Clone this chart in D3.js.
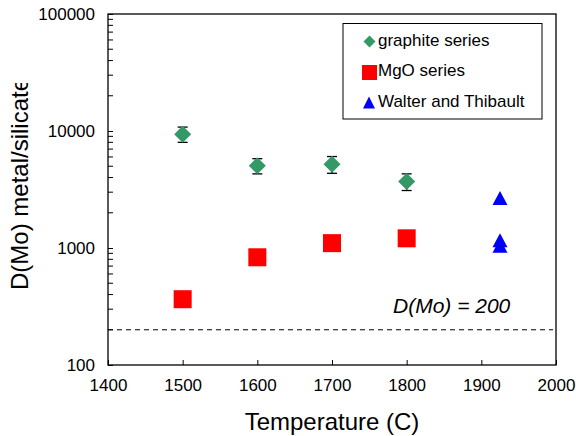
<!DOCTYPE html>
<html><head><meta charset="utf-8">
<script src="https://cdn.jsdelivr.net/npm/d3@7"></script>
<style>body{margin:0;background:#fff;} svg{display:block;font-family:"Liberation Sans",Arial,sans-serif;}</style>
</head><body>
<script>
// Data
const graphiteT = [1500, 1600, 1700, 1800];
const graphiteD = [9400, 5050, 5200, 3700];
const graphiteErr = [1400, 750, 850, 600];
const mgoT = [1500, 1600, 1700, 1800];
const mgoD = [365, 833, 1100, 1210];
const walterT = [1925, 1925, 1925];
const walterD = [2550, 1110, 1000];
const xTicks = [1400, 1500, 1600, 1700, 1800, 1900, 2000];
const yTicks = [100, 1000, 10000, 100000];
const refLine = 200;
const legendLabels = ["graphite series", "MgO series", "Walter and Thibault"];

const W = 576, H = 436;
const m = {l: 108, r: 556, t: 14, b: 365};
const svg = d3.select("body").append("svg").attr("width", W).attr("height", H);

const x = d3.scaleLinear().domain([1400, 2000]).range([m.l, m.r]);
const y = d3.scaleLog().domain([100, 100000]).range([m.b, m.t]);

// minor ticks for y
const minor = [];
for (let d = 100; d < 100000; d *= 10) for (let k = 2; k <= 9; k++) minor.push(d * k);

// y axis
const yAxis = svg.append("g").attr("transform", `translate(${m.l},0)`)
  .call(d3.axisLeft(y).tickValues(yTicks).tickFormat(d3.format("d")).tickSizeInner(-5).tickSizeOuter(0).tickPadding(13));
yAxis.select(".domain").remove();
yAxis.selectAll("text").style("font-size", "17px").attr("fill", "#000");
yAxis.selectAll("line").attr("stroke", "#000");
svg.append("g").selectAll("line").data(minor).join("line")
  .attr("x1", m.l).attr("x2", m.l + 5).attr("y1", d => y(d)).attr("y2", d => y(d))
  .attr("stroke", "#000").attr("stroke-width", 1);

// x axis
const xAxis = svg.append("g").attr("transform", `translate(0,${m.b})`)
  .call(d3.axisBottom(x).tickValues(xTicks).tickFormat(d3.format("d")).tickSizeInner(-5).tickSizeOuter(0).tickPadding(14));
xAxis.select(".domain").remove();
xAxis.selectAll("text").style("font-size", "17px").attr("fill", "#000");
xAxis.selectAll("line").attr("stroke", "#000");

// frame
svg.append("rect").attr("x", m.l).attr("y", m.t).attr("width", m.r - m.l).attr("height", m.b - m.t)
  .attr("fill", "none").attr("stroke", "#000").attr("stroke-width", 1.3);

// reference line
svg.append("line").attr("x1", m.l).attr("x2", m.r - 3).attr("y1", y(refLine)).attr("y2", y(refLine))
  .attr("stroke", "#000").attr("stroke-width", 1).attr("stroke-dasharray", "5,4");
svg.append("text").attr("x", 393).attr("y", 313).style("font-size", "21px").style("font-style", "italic")
  .text("D(Mo) = " + refLine);

// error bars
const eb = svg.append("g").attr("stroke", "#000").attr("stroke-width", 1.3);
graphiteT.forEach((t, i) => {
  const cx = x(t), y1 = y(graphiteD[i] + graphiteErr[i]), y2 = y(graphiteD[i] - graphiteErr[i]);
  eb.append("line").attr("x1", cx).attr("x2", cx).attr("y1", y1).attr("y2", y2);
  eb.append("line").attr("x1", cx - 5).attr("x2", cx + 5).attr("y1", y1).attr("y2", y1);
  eb.append("line").attr("x1", cx - 5).attr("x2", cx + 5).attr("y1", y2).attr("y2", y2);
});

const diamond = (s) => `M0,${-s}L${s},0L0,${s}L${-s},0Z`;
const tri = (w, h) => `M0,${-h * 2 / 3}L${w / 2},${h / 3}L${-w / 2},${h / 3}Z`;

svg.append("g").selectAll("path").data(graphiteT).join("path")
  .attr("transform", (d, i) => `translate(${x(d)},${y(graphiteD[i])})`)
  .attr("d", diamond(8.5)).attr("fill", "#339966");

svg.append("g").selectAll("rect").data(mgoT).join("rect")
  .attr("x", d => x(d) - 9).attr("y", (d, i) => y(mgoD[i]) - 9)
  .attr("width", 18).attr("height", 18).attr("fill", "#ff0000");

svg.append("g").selectAll("path").data(walterT).join("path")
  .attr("transform", (d, i) => `translate(${x(d)},${y(walterD[i])})`)
  .attr("d", tri(15, 14)).attr("fill", "#0000ff");

// legend
const lg = svg.append("g");
lg.append("rect").attr("x", 343).attr("y", 23.5).attr("width", 199).attr("height", 95.5)
  .attr("fill", "#fff").attr("stroke", "#000").attr("stroke-width", 1);
const ly = [41.5, 72.5, 103.5];
lg.append("path").attr("transform", `translate(369.5,${ly[0]})`).attr("d", diamond(6)).attr("fill", "#339966");
lg.append("rect").attr("x", 362).attr("y", ly[1] - 7.5).attr("width", 15).attr("height", 15).attr("fill", "#ff0000");
lg.append("path").attr("transform", `translate(369,${ly[2] + 1})`).attr("d", tri(12, 12)).attr("fill", "#0000ff");
lg.selectAll("text").data(legendLabels).join("text")
  .attr("x", 378).attr("y", (d, i) => [46, 76, 107][i]).style("font-size", "17px").text(d => d);

// axis titles
svg.append("text").attr("x", 332).attr("y", 430).attr("text-anchor", "middle")
  .style("font-size", "24px").text("Temperature (C)");
svg.append("clipPath").attr("id", "yclip").append("rect").attr("x", 0).attr("y", 83).attr("width", 60).attr("height", 300);
svg.append("g").attr("clip-path", "url(#yclip)")
  .append("text").attr("transform", "translate(28,290) rotate(-90)")
  .style("font-size", "24px").text("D(Mo) metal/silicate");
</script>
</body></html>
